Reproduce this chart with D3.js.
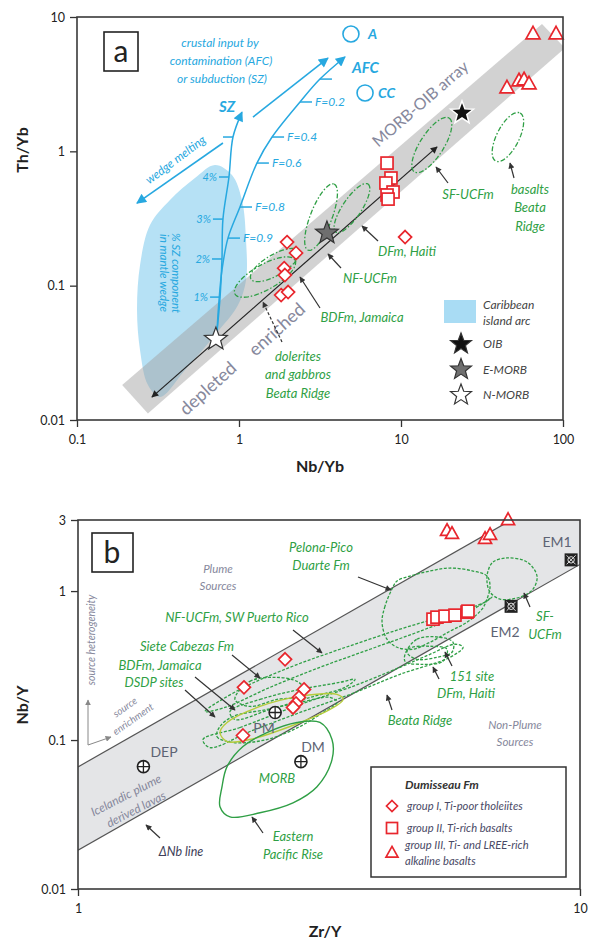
<!DOCTYPE html>
<html><head><meta charset="utf-8">
<script src="https://cdn.jsdelivr.net/npm/d3@7"></script>
<style>
body{margin:0;background:#fff}
svg{display:block}
text{font-family:Lato,"Open Sans",sans-serif}
</style></head>
<body><svg id="c" width="589" height="944"></svg>
<script>
// ---------- Panel a : Th/Yb vs Nb/Yb ----------
const aDiamonds = [[1.98,0.211],[2.25,0.175],[1.90,0.135],[1.92,0.120],[1.82,0.0851],[2.01,0.0896],[10.6,0.230]];
const aSquares = [[8.2,0.818],[8.67,0.633],[8.07,0.581],[8.93,0.498],[8.2,0.473],[8.32,0.441]];
const aTriangles = [[65.3,7.47],[90.6,7.47],[45.1,2.96],[53.5,3.34],[57.5,3.40],[61.7,3.17]];
const aStarNames = ["OIB","E-MORB","N-MORB"];
const aStarX = [23.8,3.49,0.72];
const aStarY = [1.93,0.247,0.040];
const aCrustNames = ["A","CC"];
const aCrustX = [4.91,6.0];
const aCrustY = [7.47,2.72];
const aArrayBand = [[0.19,0.0182],[0.274,0.0112],[102.8,5.88],[74.2,8.87]];
const aTrend = [[0.29,0.0148],[16.7,1.08]];
const arcField = [[0.711,0.791],[0.905,0.666],[1.043,0.434],[1.105,0.2185],[1.105,0.110],[0.986,0.0717],[0.711,0.0429],[0.464,0.02353],[0.3253,0.01481],[0.2743,0.0182],[0.245,0.0331],[0.2347,0.0658],[0.245,0.1424],[0.2822,0.2827],[0.375,0.434],[0.535,0.633]];
const szPath = [[0.731,0.0452],[0.764,0.0822],[0.785,0.158],[0.796,0.313],[0.867,0.644],[0.918,1.278],[1.043,1.96]];
const szTicks = [[0.764,0.0822,"1%"],[0.785,0.158,"2%"],[0.796,0.313,"3%"],[0.867,0.644,"4%"],[0.918,1.278,""]];
const afcPath = [[0.731,0.0452],[0.753,0.0781],[0.785,0.1306],[0.855,0.226],[1.014,0.385],[1.29,0.818],[1.60,1.278],[2.38,2.33],[3.16,3.45],[4.51,5.04]];
const afcTicks = [[0.855,0.226,"F=0.9"],[1.014,0.385,"F=0.8"],[1.29,0.818,"F=0.6"],[1.60,1.278,"F=0.4"],[2.38,2.33,"F=0.2"],[3.16,3.45,""]];
const crustArrow = [[1.22,1.80],[3.54,4.95]];
const wedgeArrow = [[0.796,1.153],[0.2345,0.412]];
// fields: centre, end of one axis, end of the conjugate axis
const aFields = [
  {c:[15.5,1.114], u:[19.8,1.77], v:[17.9,1.005]},
  {c:[45.7,1.278], u:[54.3,1.93], v:[52.7,1.173]},
  {c:[4.98,0.378], u:[6.25,0.571], v:[5.58,0.3475]},
  {c:[3.21,0.324], u:[3.86,0.571], v:[3.70,0.303]},
  {c:[1.447,0.1159], u:[2.217,0.155], v:[1.576,0.0960]},
  {c:[1.667,0.1424], u:[2.345,0.181], v:[1.79,0.122]}
];
const aXTicks = [0.1,1,10,100];
const aYTicks = [0.01,0.1,1,10];

// ---------- Panel b : Nb/Y vs Zr/Y ----------
const bDiamonds = [[2.585,0.3484],[2.141,0.2257],[2.131,0.1073],[2.820,0.2188],[2.755,0.1933],[2.718,0.1761],[2.681,0.1655]];
const bSquares = [[5.095,0.6478],[5.189,0.6682],[5.384,0.6787],[5.636,0.6894],[5.956,0.7222],[5.982,0.7332]];
const bTriangles = [[5.434,2.535],[5.559,2.42],[6.469,2.24],[6.619,2.383],[7.19,3.0]];
const bRefNames = ["PM","DM","DEP"];
const bRefX = [2.47,2.78,1.35];
const bRefY = [0.153,0.0716,0.0663];
const bEMNames = ["EM1","EM2"];
const bEMX = [9.6,7.29];
const bEMY = [1.62,0.79];
const nbLower = [[1,0.0182],[10,1.51]];
const nbUpper = [[1,0.066],[7.3,3]];
const icelandBand = [[1,0.0182],[10,1.51],[10,3],[7.3,3],[1,0.066]];
const morbField = [[1.981,0.0663],[2.131,0.0904],[2.379,0.1123],[2.731,0.1312],[3.034,0.1312],[3.206,0.1008],[3.206,0.0739],[2.993,0.0486],[2.681,0.0379],[2.304,0.0325],[2.008,0.0305],[1.918,0.0357],[1.936,0.0486]];
const sfField = [[6.558,1.363],[6.711,1.568],[7.155,1.668],[7.842,1.568],[8.210,1.262],[8.061,1.032],[7.594,0.9112],[6.929,0.8834],[6.619,0.9846],[6.528,1.150]];
const pelonaField = [[4.222,1.032],[4.089,0.7925],[4.033,0.6183],[4.126,0.4750],[4.320,0.4197],[4.648,0.4069],[5.025,0.4534],[5.508,0.5378],[5.956,0.6183],[6.380,0.7562],[6.528,0.8834],[6.619,1.080],[6.528,1.262],[6.123,1.363],[5.508,1.428],[5.025,1.363],[4.585,1.262],[4.320,1.168]];
const puertoRicoField = [[1.791,0.1555],[2.102,0.2188],[2.644,0.3078],[3.326,0.4069],[4.380,0.5547],[5.508,0.7002],[6.469,0.8430],[6.680,0.9112],[6.039,0.7332],[4.800,0.5378],[3.817,0.4069],[3.034,0.3078],[2.412,0.2257],[1.963,0.1655]];
const beataField = [[1.774,0.1008],[2.102,0.1214],[2.768,0.1734],[3.483,0.2257],[4.380,0.3078],[5.025,0.3763],[5.636,0.4396],[5.848,0.4197],[5.508,0.3593],[4.380,0.2761],[3.483,0.2024],[2.768,0.1531],[2.200,0.1141],[1.832,0.0890]];
const sieteField = [[2.054,0.1874],[2.200,0.2477],[2.491,0.2635],[2.731,0.2477],[2.807,0.2257],[2.731,0.1963],[2.491,0.1874],[2.200,0.1681]];
const dsdpField = [[2.008,0.1555],[2.304,0.1874],[2.768,0.2188],[3.326,0.2439],[3.563,0.2557],[3.403,0.2257],[2.899,0.1933],[2.412,0.1605],[2.054,0.1374]];
const jamaicaField = [[1.918,0.1233],[1.891,0.1056],[2.036,0.0962],[2.379,0.1008],[2.768,0.1233],[3.076,0.1531],[3.281,0.1789],[3.177,0.1933],[2.768,0.1789],[2.379,0.1605],[2.036,0.1439]];
const pmField = [[1.918,0.1123],[1.981,0.1312],[2.304,0.1681],[2.768,0.1963],[3.281,0.2024],[3.373,0.1874],[3.177,0.1605],[2.644,0.1233],[2.200,0.1008],[1.981,0.0977]];
const site151Field = [[4.523,0.3884],[4.734,0.4750],[5.261,0.4898],[5.585,0.4534],[5.559,0.3884],[5.189,0.3593],[4.734,0.3484]];
const haitiField = [[4.481,0.3379],[4.543,0.4069],[5.025,0.4262],[5.434,0.4069],[5.335,0.3379],[4.867,0.3224]];
const bXTicks = [1,10];
const bYTicks = [0.01,0.1,1,3];

// ---------- common ----------
const RED = "#e8262d", GREEN = "#2f9f45", BLUE = "#27a8e0", GREYTXT = "#86889c";
const svg = d3.select("#c");
const defs = svg.append("defs");
function marker(id, color, w, h){
  defs.append("marker").attr("id",id).attr("viewBox","0 0 10 10")
    .attr("refX",9).attr("refY",5).attr("markerUnits","userSpaceOnUse")
    .attr("markerWidth",w).attr("markerHeight",h).attr("orient","auto-start-reverse")
    .append("path").attr("d","M0,0 L10,5 L0,10 z").attr("fill",color);
}
marker("hk","#222",8,7);
marker("hb",BLUE,11,10);
marker("hg","#888",6,6);
marker("hs","#333",7,6);

function starPath(cx,cy,R){
  const p=[];
  for(let i=0;i<10;i++){const r=i%2?R*0.42:R;const a=-Math.PI/2+i*Math.PI/5;p.push([cx+r*Math.cos(a),cy+r*Math.sin(a)]);}
  return "M"+p.map(d=>d.join(",")).join("L")+"Z";
}
function diamond(g,x,y,s){g.append("path").attr("d",`M${x},${y-s}L${x+s},${y}L${x},${y+s}L${x-s},${y}Z`).attr("fill","#fff").attr("stroke",RED).attr("stroke-width",1.7);}
function square(g,x,y,s){g.append("rect").attr("x",x-s).attr("y",y-s).attr("width",2*s).attr("height",2*s).attr("fill","#fff").attr("stroke",RED).attr("stroke-width",1.7);}
function triangle(g,x,y,s){g.append("path").attr("d",`M${x},${y-s*1.1}L${x+s},${y+s*0.7}L${x-s},${y+s*0.7}Z`).attr("fill","#fff").attr("stroke",RED).attr("stroke-width",1.7);}
function label(g,x,y,t,o){
  const e=g.append("text").attr("x",x).attr("y",y).text(t)
    .attr("font-size",o.size||13).attr("fill",o.fill||GREEN)
    .attr("text-anchor",o.anchor||"middle");
  if(o.italic!==false) e.attr("font-style","italic");
  if(o.bold) e.attr("font-weight","bold");
  if(o.rot!==undefined) e.attr("transform",`rotate(${o.rot},${x},${y})`);
  return e;
}
function arrow(g,x1,y1,x2,y2,o={}){
  const l=g.append("line").attr("x1",x1).attr("y1",y1).attr("x2",x2).attr("y2",y2)
    .attr("stroke",o.color||"#333").attr("stroke-width",o.w||1.2).attr("marker-end",`url(#${o.m||"hs"})`);
  if(o.dash) l.attr("stroke-dasharray",o.dash);
}
function minorTicks(lo,hi){const t=[];for(let e=Math.floor(Math.log10(lo));e<Math.ceil(Math.log10(hi));e++){for(let k=1;k<10;k++){const v=k*Math.pow(10,e);if(v>=lo*0.999&&v<=hi*1.001)t.push(v);}}return t;}
function fmt(v){return String(+v.toPrecision(3));}
function drawAxes(g,x,y,xt,yt){
  const [x0,x1]=x.range(), [y0,y1]=y.range();
  const gl=g.append("g").attr("transform",`translate(${x0},0)`);
  gl.call(d3.axisLeft(y).tickValues(minorTicks(...y.domain())).tickSize(4).tickFormat("").tickSizeOuter(0));
  gl.call(d3.axisLeft(y).tickValues(yt).tickSize(7).tickPadding(5).tickFormat(fmt).tickSizeOuter(0));
  const gb=g.append("g").attr("transform",`translate(0,${y0})`);
  gb.call(d3.axisBottom(x).tickValues(minorTicks(...x.domain())).tickSize(5).tickFormat("").tickSizeOuter(0));
  gb.call(d3.axisBottom(x).tickValues(xt).tickSize(7).tickPadding(8).tickFormat(fmt).tickSizeOuter(0));
  g.selectAll(".domain").remove();
  g.selectAll(".tick line").attr("stroke","#333").attr("stroke-width",1.3);
  g.selectAll(".tick text").attr("font-size",12.5).attr("fill","#222").attr("font-family","Lato,sans-serif");
  g.append("rect").attr("x",x0).attr("y",y1).attr("width",x1-x0).attr("height",y0-y1)
    .attr("fill","none").attr("stroke","#3a3a3a").attr("stroke-width",1.6);
}
const closed = d3.line().curve(d3.curveCatmullRomClosed.alpha(0.5));

// ================= Panel a =================
const xa = d3.scaleLog().domain([0.1,100]).range([77,563]);
const ya = d3.scaleLog().domain([0.01,10]).range([420,17]);
const A = svg.append("g");
defs.append("clipPath").attr("id","clipA").append("rect").attr("x",77).attr("y",17).attr("width",486).attr("height",403);
const Ac = A.append("g").attr("clip-path","url(#clipA)");
const pa = d=>[xa(d[0]),ya(d[1])];

// Caribbean island arc field
Ac.append("path").attr("d",closed(arcField.map(pa))).attr("fill","#b6e1f5");
// MORB-OIB array
Ac.append("path").attr("d","M"+aArrayBand.map(pa).join("L")+"Z").attr("fill","#a0a0a0").attr("opacity",0.48);

// model curves
const lineA = d3.line().curve(d3.curveCatmullRom.alpha(0.5));
A.append("path").attr("d",lineA(szPath.map(pa))).attr("fill","none").attr("stroke",BLUE).attr("stroke-width",1.5).attr("marker-end","url(#hb)");
A.append("path").attr("d",lineA(afcPath.map(pa))).attr("fill","none").attr("stroke",BLUE).attr("stroke-width",1.5).attr("marker-end","url(#hb)");
szTicks.forEach(d=>{const [x,y]=pa(d);A.append("line").attr("x1",x-10).attr("x2",x).attr("y1",y).attr("y2",y).attr("stroke",BLUE).attr("stroke-width",1.5);
  if(d[2]) label(A,x-12,y+4,d[2],{fill:BLUE,size:11,anchor:"end"});});
afcTicks.forEach(d=>{const [x,y]=pa(d);A.append("line").attr("x1",x).attr("x2",x+12).attr("y1",y).attr("y2",y).attr("stroke",BLUE).attr("stroke-width",1.5);
  if(d[2]) label(A,x+15,y+4,d[2],{fill:BLUE,size:12,anchor:"start"});});
{const [p,q]=crustArrow.map(pa);A.append("line").attr("x1",p[0]).attr("y1",p[1]).attr("x2",q[0]).attr("y2",q[1]).attr("stroke",BLUE).attr("stroke-width",1.6).attr("marker-end","url(#hb)");}
{const [p,q]=wedgeArrow.map(pa);A.append("line").attr("x1",p[0]).attr("y1",p[1]).attr("x2",q[0]).attr("y2",q[1]).attr("stroke",BLUE).attr("stroke-width",1.6).attr("marker-end","url(#hb)");}

// enrichment trend
{const [p,q]=aTrend.map(pa);A.append("line").attr("x1",p[0]).attr("y1",p[1]).attr("x2",q[0]).attr("y2",q[1]).attr("stroke","#222").attr("stroke-width",1.2).attr("marker-end","url(#hk)").attr("marker-start","url(#hk)");}

// dashed fields
aFields.forEach(f=>{
  const c=pa(f.c), u=pa(f.u), v=pa(f.v);
  const pts=d3.range(0,73).map(i=>{const t=i/72*2*Math.PI;return [c[0]+Math.cos(t)*(u[0]-c[0])+Math.sin(t)*(v[0]-c[0]), c[1]+Math.cos(t)*(u[1]-c[1])+Math.sin(t)*(v[1]-c[1])];});
  A.append("path").attr("d",d3.line()(pts)+"Z").attr("fill","none").attr("stroke",GREEN).attr("stroke-width",1.3).attr("stroke-dasharray","5,2,1.5,2");
});

// samples
aDiamonds.forEach(d=>diamond(A,xa(d[0]),ya(d[1]),6.5));
aSquares.forEach(d=>square(A,xa(d[0]),ya(d[1]),6));
aTriangles.forEach(d=>triangle(A,xa(d[0]),ya(d[1]),7));
// reservoirs
const starFill=["#111","#6f6f6f","#fff"];
aStarNames.forEach((n,i)=>{A.append("path").attr("d",starPath(xa(aStarX[i]),ya(aStarY[i]),12)).attr("fill",starFill[i]).attr("stroke",i===0?"#fff":"#333").attr("stroke-width",i===0?1.5:1.2);});
aCrustNames.forEach((n,i)=>{A.append("circle").attr("cx",xa(aCrustX[i])).attr("cy",ya(aCrustY[i])).attr("r",8).attr("fill","#fff").attr("stroke",BLUE).attr("stroke-width",1.6);
  label(A,xa(aCrustX[i])+(i?13:17),ya(aCrustY[i])+5,n,{fill:BLUE,size:14,bold:true,anchor:"start"});});

// annotation
label(A,220,47,"crustal input by",{fill:BLUE,size:12});
label(A,221,65,"contamination (AFC)",{fill:BLUE,size:12});
label(A,222,83,"or subduction (SZ)",{fill:BLUE,size:12});
label(A,227,112,"SZ",{fill:BLUE,size:15,bold:true});
label(A,352,73,"AFC",{fill:BLUE,size:15,bold:true,anchor:"start"});
label(A,178,163,"wedge melting",{fill:BLUE,size:12,rot:-37});
label(A,172,273,"% SZ component",{fill:BLUE,size:11.5,rot:90});
label(A,160,273,"in mantle wedge",{fill:BLUE,size:11.5,rot:90});
label(A,424,108,"MORB-OIB array",{fill:GREYTXT,size:16,italic:false,rot:-41});
label(A,281,334,"enriched",{fill:GREYTXT,size:18,italic:false,rot:-42});
label(A,212,393,"depleted",{fill:GREYTXT,size:18,italic:false,rot:-42});

label(A,468,199,"SF-UCFm",{});
label(A,530,194,"basalts",{});
label(A,530,212,"Beata",{});
label(A,530,231,"Ridge",{});
label(A,407,256,"DFm, Haiti",{});
label(A,370,283,"NF-UCFm",{});
label(A,362,322,"BDFm, Jamaica",{});
label(A,298,361,"dolerites",{});
label(A,298,379,"and gabbros",{});
label(A,298,398,"Beata Ridge",{});
arrow(A,448,183,436,167);
arrow(A,514,178,510,163);
arrow(A,378,241,362,226);
arrow(A,341,268,328,254);
arrow(A,320,308,300,277);
arrow(A,282,342,263,302,{dash:"3,2"});

// legend a
A.append("rect").attr("x",444).attr("y",300).attr("width",32).attr("height",23).attr("fill","#a9dcf4");
label(A,483,309,"Caribbean",{fill:"#444",size:12,anchor:"start"});
label(A,483,325,"island arc",{fill:"#444",size:12,anchor:"start"});
aStarNames.forEach((n,i)=>{const y=344+i*25.5;
  A.append("path").attr("d",starPath(461,y,11)).attr("fill",starFill[i]).attr("stroke","#333").attr("stroke-width",1.2);
  label(A,483,y+4,n,{fill:"#444",size:12,anchor:"start"});});

// panel tag
A.append("rect").attr("x",104).attr("y",32).attr("width",34).attr("height",39).attr("fill","#fff").attr("stroke","#222").attr("stroke-width",1.6);
label(A,121,62,"a",{fill:"#222",size:30,italic:false,});

drawAxes(A,xa,ya,aXTicks,aYTicks);
label(A,28,150,"Th/Yb",{fill:"#222",size:16,bold:true,italic:false,rot:-90});
label(A,320,472,"Nb/Yb",{fill:"#222",size:16,bold:true,italic:false});

// ================= Panel b =================
const xb = d3.scaleLog().domain([1,10]).range([78,580]);
const yb = d3.scaleLog().domain([0.01,3]).range([889,520]);
const B = svg.append("g");
defs.append("clipPath").attr("id","clipB").append("rect").attr("x",78).attr("y",520).attr("width",502).attr("height",369);
const Bc = B.append("g").attr("clip-path","url(#clipB)");
const pb = d=>[xb(d[0]),yb(d[1])];

Bc.append("path").attr("d","M"+icelandBand.map(pb).join("L")+"Z").attr("fill","#e4e5e7");
[nbLower,nbUpper].forEach(l=>{const [p,q]=l.map(pb);Bc.append("line").attr("x1",p[0]).attr("y1",p[1]).attr("x2",q[0]).attr("y2",q[1]).attr("stroke","#555").attr("stroke-width",1.2);});

// compositional fields
const dashed=[pelonaField,sfField,puertoRicoField,beataField,sieteField,dsdpField,jamaicaField,site151Field,haitiField];
dashed.forEach(f=>Bc.append("path").attr("d",closed(f.map(pb))).attr("fill","none").attr("stroke",GREEN).attr("stroke-width",1.3).attr("stroke-dasharray","3,1.6"));
Bc.append("path").attr("d",closed(pmField.map(pb))).attr("fill","none").attr("stroke","#b6cc3c").attr("stroke-width",1.4);
Bc.append("path").attr("d",closed(morbField.map(pb))).attr("fill","none").attr("stroke",GREEN).attr("stroke-width",1.4);

// samples
bDiamonds.forEach(d=>diamond(B,xb(d[0]),yb(d[1]),6.5));
bSquares.forEach(d=>square(B,xb(d[0]),yb(d[1]),6));
bTriangles.forEach(d=>triangle(B,xb(d[0]),yb(d[1]),6.5));

// mantle end-members
bRefNames.forEach((n,i)=>{const x=xb(bRefX[i]),y=yb(bRefY[i]);
  B.append("circle").attr("cx",x).attr("cy",y).attr("r",6).attr("fill","#fff").attr("stroke","#222").attr("stroke-width",1.6);
  B.append("path").attr("d",`M${x-6},${y}H${x+6}M${x},${y-6}V${y+6}`).attr("stroke","#222").attr("stroke-width",1.3);});
bEMNames.forEach((n,i)=>{const x=xb(bEMX[i]),y=yb(bEMY[i]);
  B.append("rect").attr("x",x-6.5).attr("y",y-6.5).attr("width",13).attr("height",13).attr("fill","#222");
  B.append("path").attr("d",`M${x-4.5},${y-4.5}L${x+4.5},${y+4.5}M${x+4.5},${y-4.5}L${x-4.5},${y+4.5}`).attr("stroke","#ddd").attr("stroke-width",1);
  B.append("circle").attr("cx",x).attr("cy",y).attr("r",3.2).attr("fill","none").attr("stroke","#ddd").attr("stroke-width",1);});
const refTxt={fill:"#5d6374",size:14,italic:false,anchor:"middle"};
label(B,264,733,"PM",refTxt);
label(B,313,752,"DM",refTxt);
label(B,164,757,"DEP",refTxt);
label(B,557,547,"EM1",refTxt);
label(B,505,637,"EM2",refTxt);

// annotation
label(B,218,573,"Plume",{fill:GREYTXT,size:11.5});
label(B,218,590,"Sources",{fill:GREYTXT,size:11.5});
label(B,515,729,"Non-Plume",{fill:GREYTXT,size:11.5});
label(B,515,746,"Sources",{fill:GREYTXT,size:11.5});
label(B,95,640,"source heterogeneity",{fill:GREYTXT,size:10.5,rot:-90});
label(B,127,710,"source",{fill:GREYTXT,size:10,rot:-35});
label(B,135,722,"enrichment",{fill:GREYTXT,size:10,rot:-35});
arrow(B,88,745,88,700,{color:"#888",m:"hg",w:1});
arrow(B,88,745,111,737,{color:"#888",m:"hg",w:1});
label(B,128,799,"Icelandic plume",{fill:GREYTXT,size:12,rot:-27});
label(B,138,813,"derived lavas",{fill:GREYTXT,size:12,rot:-27});
label(B,181,856,"\u0394Nb line",{fill:"#3e3e58",size:12.5});
arrow(B,160,838,146,825);

label(B,321,552,"Pelona-Pico",{});
label(B,321,570,"Duarte Fm",{});
label(B,237,622,"NF-UCFm, SW Puerto Rico",{});
label(B,187,651,"Siete Cabezas Fm",{});
label(B,160,670,"BDFm, Jamaica",{});
label(B,154,687,"DSDP sites",{});
label(B,472,681,"151 site",{});
label(B,466,698,"DFm, Haiti",{});
label(B,545,621,"SF-",{});
label(B,545,639,"UCFm",{});
label(B,420,725,"Beata Ridge",{});
label(B,277,783,"MORB",{});
label(B,293,841,"Eastern",{});
label(B,293,859,"Pacific Rise",{});
arrow(B,358,577,391,590);
arrow(B,293,630,322,653);
arrow(B,232,655,260,678);
arrow(B,195,677,235,710);
arrow(B,185,690,215,717);
arrow(B,452,666,445,652);
arrow(B,439,679,433,667);
arrow(B,530,607,524,593);
arrow(B,392,710,387,695);
arrow(B,263,833,252,817);

// legend b
B.append("rect").attr("x",371).attr("y",767).attr("width",195).attr("height",110).attr("fill","#fff").attr("stroke","#333").attr("stroke-width",1.5);
label(B,405,789,"Dumisseau Fm",{fill:"#333",size:12,bold:true,anchor:"start"});
diamond(B,392,806,5.5);
label(B,407,810,"group I, Ti-poor tholeiites",{fill:"#4a4a66",size:11.2,anchor:"start"});
square(B,392,828,5.5);
label(B,407,832,"group II, Ti-rich basalts",{fill:"#4a4a66",size:11.2,anchor:"start"});
triangle(B,392,853,6);
label(B,405,849,"group III, Ti- and LREE-rich",{fill:"#4a4a66",size:11.2,anchor:"start"});
label(B,405,865,"alkaline basalts",{fill:"#4a4a66",size:11.2,anchor:"start"});

// panel tag
B.append("rect").attr("x",92).attr("y",533).attr("width",41).attr("height",39).attr("fill","#fff").attr("stroke","#222").attr("stroke-width",1.6);
label(B,112,563,"b",{fill:"#222",size:30,italic:false});

drawAxes(B,xb,yb,bXTicks,bYTicks);
label(B,28,705,"Nb/Y",{fill:"#222",size:16,bold:true,italic:false,rot:-90});
label(B,325,937,"Zr/Y",{fill:"#222",size:16,bold:true,italic:false});
</script>
</body></html>
